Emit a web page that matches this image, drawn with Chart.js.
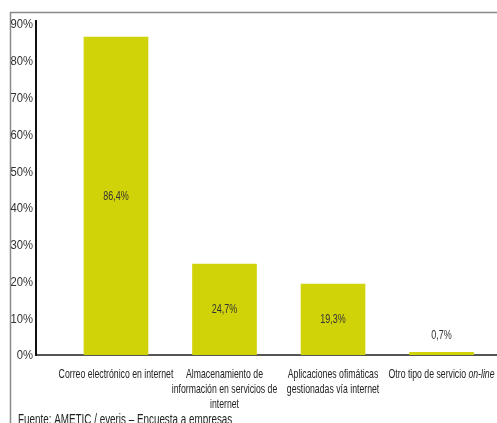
<!DOCTYPE html>
<html>
<head>
<meta charset="utf-8">
<script src="https://cdn.jsdelivr.net/npm/chart.js@4/dist/chart.umd.min.js"></script>
<style>
  html, body { margin: 0; padding: 0; background: #fff; }
  #wrap { width: 497px; height: 423px; }
</style>
</head>
<body>
<div id="wrap"><canvas id="barChart"></canvas></div>
<script>
var categories = [
    'Correo electrónico en internet',
    ['Almacenamiento de', 'información en servicios de', 'internet'],
    ['Aplicaciones ofimáticas', 'gestionadas vía internet'],
    'Otro tipo de servicio on-line'
];
var values = [86.4, 24.7, 19.3, 0.7];
var valueLabels = ['86,4%', '24,7%', '19,3%', '0,7%'];
var yTicks = [0, 10, 20, 30, 40, 50, 60, 70, 80, 90];
var italicTail = 'on-line';
var source = 'Fuente: AMETIC / everis – Encuesta a empresas';

var fam = '"Liberation Sans", Arial, sans-serif';

// no condensed face is installed, so text is squeezed horizontally by hand
function squeezed(ctx, text, x, y, sx, font, align) {
    ctx.save();
    ctx.font = font;
    ctx.textAlign = align || 'center';
    ctx.scale(sx, 1);
    ctx.fillText(text, x / sx, y);
    ctx.restore();
}

function squeezedWidth(ctx, text, sx, font) {
    ctx.save();
    ctx.font = font;
    var w = ctx.measureText(text).width * sx;
    ctx.restore();
    return w;
}

document.addEventListener("DOMContentLoaded", function() {

    var extras = {
        id: 'extras',
        beforeDraw: function(chart) {
            var ctx = chart.ctx;
            ctx.save();
            ctx.strokeStyle = '#8a8a8a';
            ctx.lineWidth = 1.5;
            ctx.beginPath();
            ctx.moveTo(10.5, 423);
            ctx.lineTo(10.5, 12.5);
            ctx.lineTo(497, 12.5);
            ctx.stroke();
            ctx.restore();
        },
        afterDatasetsDraw: function(chart) {
            var ctx = chart.ctx;
            var meta = chart.getDatasetMeta(0);
            ctx.save();
            ctx.fillStyle = '#333';
            ctx.textBaseline = 'middle';
            meta.data.forEach(function(bar, i) {
                var h = bar.base - bar.y;
                var y = h < 30 ? bar.y - 17 : bar.y + h / 2;
                squeezed(ctx, valueLabels[i], bar.x, y, 0.72, '12.5px ' + fam);
            });
            ctx.restore();
        },
        afterDraw: function(chart) {
            var ctx = chart.ctx;
            var xs = chart.scales.x;
            var ys = chart.scales.y;
            var f13 = '13px ' + fam;
            var f13i = 'italic 13px ' + fam;
            var sx = 0.67;
            ctx.save();
            ctx.textBaseline = 'middle';

            // y tick labels
            ctx.fillStyle = '#333';
            ys.ticks.forEach(function(t) {
                squeezed(ctx, t.value + '%', 33, ys.getPixelForValue(t.value) + 1, 0.9, '12.5px ' + fam, 'right');
            });

            // x tick labels
            ctx.fillStyle = '#222';
            xs.ticks.forEach(function(t) {
                var c = categories[t.value];
                var px = xs.getPixelForValue(t.value);
                var lines = Array.isArray(c) ? c : [c];
                lines.forEach(function(line, k) {
                    var y = 374 + k * 15;
                    if (line.endsWith(italicTail)) {
                        var head = line.slice(0, line.length - italicTail.length);
                        var w1 = squeezedWidth(ctx, head, sx, f13);
                        var w2 = squeezedWidth(ctx, italicTail, sx, f13i);
                        var x0 = px - (w1 + w2) / 2;
                        squeezed(ctx, head, x0, y, sx, f13, 'left');
                        squeezed(ctx, italicTail, x0 + w1, y, sx, f13i, 'left');
                    } else {
                        squeezed(ctx, line, px, y, sx, f13);
                    }
                });
            });

            ctx.textBaseline = 'alphabetic';
            squeezed(ctx, source, 18, 424, 0.68, '14.5px ' + fam, 'left');
            ctx.restore();
        }
    };

    var ctx = document.getElementById('barChart').getContext('2d');
    var barChart = new Chart(ctx, {
        type: 'bar',
        data: {
            datasets: [{
                data: values.map(function(v, i) { return { x: i, y: v }; }),
                backgroundColor: '#d0d308',
                barThickness: 64
            }]
        },
        options: {
            responsive: true,
            maintainAspectRatio: false,
            animation: false,
            layout: { padding: { top: 21, left: 11, right: 0, bottom: 18 } },
            plugins: {
                legend: { display: false },
                tooltip: { enabled: false }
            },
            scales: {
                x: {
                    type: 'linear',
                    offset: false,
                    min: -0.737,
                    max: 3.511,
                    afterBuildTicks: function(scale) {
                        scale.ticks = categories.map(function(c, i) { return { value: i }; });
                    },
                    afterFit: function(scale) { scale.height = 50; },
                    grid: { display: false, drawTicks: false, offset: false },
                    border: { color: '#555', width: 2 },
                    ticks: { display: false }
                },
                y: {
                    min: 0,
                    max: 90.8,
                    afterBuildTicks: function(scale) {
                        scale.ticks = yTicks.map(function(v) { return { value: v }; });
                    },
                    afterFit: function(scale) { scale.width = 25; },
                    grid: { display: false, drawTicks: false },
                    border: { color: '#111', width: 2 },
                    ticks: { display: false }
                }
            }
        },
        plugins: [extras]
    });
});
</script>
</body>
</html>
